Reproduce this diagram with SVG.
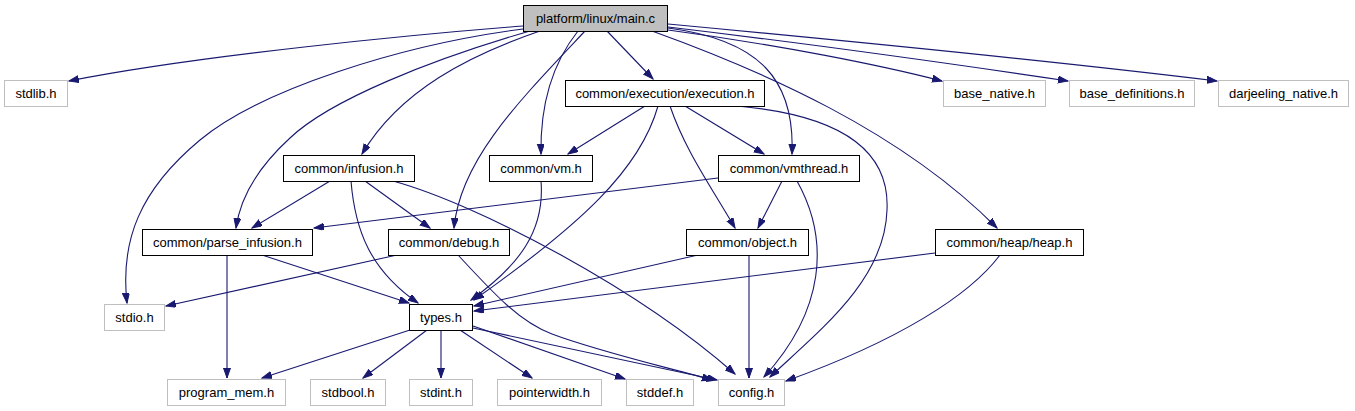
<svg xmlns="http://www.w3.org/2000/svg" width="1355" height="411" viewBox="0 0 1355 411">
<style>
  .n rect { fill: #ffffff; stroke: #000000; stroke-width: 1; }
  .n.root rect { fill: #bfbfbf; }
  .n.ext rect { stroke: #bfbfbf; }
  .n text { font-family: "Liberation Sans", Arial, sans-serif; font-size: 13px; fill: #000000; text-anchor: middle; }
  #edges path { fill: none; stroke: #191970; stroke-width: 1.1; marker-end: url(#arr); }
</style>
<defs>
  <marker id="arr" markerWidth="11" markerHeight="8" refX="10" refY="3.5" orient="auto" markerUnits="userSpaceOnUse">
    <path d="M0,0 L10,3.5 L0,7 z" fill="#191970" stroke="#191970" stroke-width="1"/>
  </marker>
</defs>
<rect width="1355" height="411" fill="#ffffff"/>
<g id="edges">
  <path d="M523,26 C420,34 200,55 69,81"/>
  <path d="M523,29 C400,45 260,90 200,140 C140,190 120,240 127,303"/>
  <path d="M530,31 C430,60 330,100 290,138 C255,170 240,200 236,228"/>
  <path d="M540,31 C470,55 400,90 362,154"/>
  <path d="M585,31 C520,100 460,160 454,228"/>
  <path d="M578,31 C555,60 540,100 541,154"/>
  <path d="M607,31 L653,79"/>
  <path d="M668,28 C760,40 795,80 792,154"/>
  <path d="M652,31 C760,70 900,130 997,228"/>
  <path d="M668,30 C780,45 880,65 942,81"/>
  <path d="M668,27 C820,45 960,65 1068,81"/>
  <path d="M668,24 C860,42 1060,62 1217,81"/>
  <path d="M645,106 L568,154"/>
  <path d="M658,106 C640,170 580,225 474,300"/>
  <path d="M670,106 C685,150 710,185 735,228"/>
  <path d="M685,106 L764,154"/>
  <path d="M737,106 C840,115 890,150 887,210 C885,280 820,330 770,377"/>
  <path d="M718,178 L314,228"/>
  <path d="M782,181 L758,228"/>
  <path d="M797,181 C830,240 825,310 764,377"/>
  <path d="M541,181 C545,230 520,265 471,300"/>
  <path d="M330,181 L252,228"/>
  <path d="M351,181 C355,230 370,270 418,303"/>
  <path d="M365,181 L430,228"/>
  <path d="M393,181 C480,205 640,290 735,374"/>
  <path d="M397,255 L166,306"/>
  <path d="M458,255 C495,295 520,322 552,334 C600,352 670,368 712,380"/>
  <path d="M698,255 L474,306"/>
  <path d="M749,255 L749,378"/>
  <path d="M935,253 L474,311"/>
  <path d="M1000,255 C970,295 900,340 786,381"/>
  <path d="M410,330 L262,378"/>
  <path d="M427,330 L363,378"/>
  <path d="M441,330 L441,378"/>
  <path d="M460,330 L532,378"/>
  <path d="M473,326 L625,379"/>
  <path d="M473,328 L717,380"/>
  <path d="M227,255 L227,378"/>
  <path d="M262,255 L409,303"/>
</g>
<g id="n_main" class="n root"><rect x="523.5" y="5.5" width="144" height="26"/><text x="595.5" y="23">platform/linux/main.c</text></g>
<g id="n_stdlib" class="n ext"><rect x="4.5" y="80.5" width="63" height="26"/><text x="36" y="98">stdlib.h</text></g>
<g id="n_execution" class="n"><rect x="565.5" y="80.5" width="199" height="26"/><text x="665" y="98">common/execution/execution.h</text></g>
<g id="n_base_native" class="n ext"><rect x="943.5" y="80.5" width="102" height="26"/><text x="994.5" y="98">base_native.h</text></g>
<g id="n_base_definitions" class="n ext"><rect x="1069.5" y="80.5" width="125" height="26"/><text x="1132" y="98">base_definitions.h</text></g>
<g id="n_darjeeling_native" class="n ext"><rect x="1218.5" y="80.5" width="130" height="26"/><text x="1283.5" y="98">darjeeling_native.h</text></g>
<g id="n_infusion" class="n"><rect x="283.5" y="155.5" width="131" height="26"/><text x="349" y="173">common/infusion.h</text></g>
<g id="n_vm" class="n"><rect x="489.5" y="155.5" width="103" height="26"/><text x="541" y="173">common/vm.h</text></g>
<g id="n_vmthread" class="n"><rect x="718.5" y="155.5" width="141" height="26"/><text x="789" y="173">common/vmthread.h</text></g>
<g id="n_parse_infusion" class="n"><rect x="142.5" y="229.5" width="170" height="26"/><text x="227.5" y="247">common/parse_infusion.h</text></g>
<g id="n_debug" class="n"><rect x="388.5" y="229.5" width="121" height="26"/><text x="449" y="247">common/debug.h</text></g>
<g id="n_object" class="n"><rect x="686.5" y="229.5" width="122" height="26"/><text x="747.5" y="247">common/object.h</text></g>
<g id="n_heap" class="n"><rect x="935.5" y="229.5" width="148" height="26"/><text x="1009.5" y="247">common/heap/heap.h</text></g>
<g id="n_stdio" class="n ext"><rect x="104.5" y="304.5" width="60" height="26"/><text x="134.5" y="322">stdio.h</text></g>
<g id="n_types" class="n"><rect x="409.5" y="304.5" width="63" height="26"/><text x="441" y="322">types.h</text></g>
<g id="n_program_mem" class="n ext"><rect x="167.5" y="379.5" width="118" height="26"/><text x="226.5" y="397">program_mem.h</text></g>
<g id="n_stdbool" class="n ext"><rect x="310.5" y="379.5" width="75" height="26"/><text x="348" y="397">stdbool.h</text></g>
<g id="n_stdint" class="n ext"><rect x="409.5" y="379.5" width="63" height="26"/><text x="441" y="397">stdint.h</text></g>
<g id="n_pointerwidth" class="n ext"><rect x="497.5" y="379.5" width="104" height="26"/><text x="549.5" y="397">pointerwidth.h</text></g>
<g id="n_stddef" class="n ext"><rect x="626.5" y="379.5" width="67" height="26"/><text x="660" y="397">stddef.h</text></g>
<g id="n_config" class="n ext"><rect x="718.5" y="379.5" width="66" height="26"/><text x="751.5" y="397">config.h</text></g>
</svg>
